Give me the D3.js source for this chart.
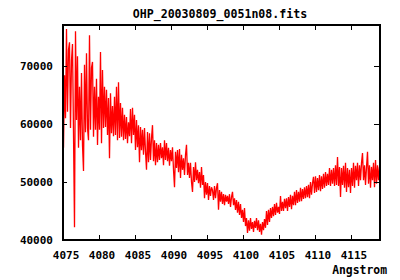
<!DOCTYPE html>
<html>
<head>
<meta charset="utf-8">
<script src="https://cdn.jsdelivr.net/npm/d3@7"></script>
<style>
  body { margin: 0; background: #fff; }
  text { font-family: "DejaVu Sans Mono", monospace; font-weight: bold; fill: #000; }
</style>
</head>
<body>
<div class="chart"></div>
<script>
// spectrum: start wavelength + step (as in the fits header), flux in units of 1000
var lambda0 = 4074.86;
var dLambda = 0.1389;
var fluxK = [
  65.0, 55.9, 68.4, 61.0, 76.4, 62.1, 72.8, 74.1, 59.3, 71.0,
  73.8, 58.4, 42.2, 76.0, 60.7, 71.7, 55.9, 66.4, 57.2, 68.8,
  56.4, 51.9, 70.2, 58.6, 72.2, 59.3, 57.2, 75.3, 59.0, 69.7,
  70.7, 57.8, 66.4, 59.0, 67.8, 56.4, 64.7, 59.0, 72.4, 56.7,
  69.3, 59.3, 66.4, 59.5, 65.9, 58.1, 64.5, 54.1, 65.3, 58.4,
  63.1, 57.9, 64.7, 58.1, 66.4, 57.2, 67.2, 57.6, 63.6, 57.8,
  62.8, 57.2, 61.6, 57.4, 61.2, 56.7, 60.3, 57.9, 62.6, 56.7,
  62.8, 58.1, 61.6, 55.5, 60.7, 56.0, 59.8, 53.4, 59.5, 55.5,
  59.0, 54.7, 59.3, 55.2, 52.1, 58.6, 53.4, 58.4, 53.8, 57.6,
  59.8, 53.6, 57.2, 52.9, 56.7, 53.4, 56.4, 53.8, 56.7, 54.1,
  56.0, 52.9, 57.2, 53.8, 56.7, 53.6, 55.9, 52.8, 55.5, 53.6,
  56.0, 52.1, 49.1, 55.2, 52.4, 55.5, 51.7, 55.7, 50.7, 54.7,
  52.1, 54.1, 51.2, 54.7, 56.4, 51.2, 53.3, 50.7, 53.3, 50.0,
  48.3, 52.6, 50.0, 53.4, 50.3, 52.1, 49.8, 51.7, 49.0, 52.6,
  49.5, 51.2, 47.2, 50.0, 47.8, 49.8, 46.9, 49.3, 47.6, 49.1,
  48.6, 46.9, 49.3, 47.2, 49.0, 49.8, 45.2, 48.6, 46.6, 48.3,
  46.2, 47.9, 46.0, 47.8, 46.6, 47.6, 46.2, 47.9, 45.7, 47.4,
  48.3, 46.0, 47.2, 45.2, 46.9, 44.7, 46.6, 44.3, 46.2, 43.8,
  45.2, 43.1, 45.5, 42.4, 43.8, 41.2, 43.4, 41.6, 43.8, 41.9,
  43.1, 41.4, 43.3, 42.1, 43.8, 41.7, 43.4, 41.4, 42.8, 40.9,
  43.1, 41.7, 43.6, 42.1, 45.0, 42.6, 45.2, 43.1, 45.5, 43.8,
  45.7, 44.1, 46.2, 44.3, 46.4, 44.7, 45.7, 44.5, 47.6, 45.0,
  46.6, 45.0, 47.1, 45.5, 47.2, 45.0, 47.4, 45.7, 47.8, 45.3,
  47.6, 46.0, 48.3, 46.0, 48.6, 46.4, 48.3, 46.6, 49.0, 46.7,
  48.8, 47.1, 49.1, 47.2, 49.3, 47.4, 49.5, 47.2, 50.0, 47.8,
  49.8, 50.9, 48.1, 51.0, 48.3, 50.7, 48.6, 51.2, 48.4, 51.0,
  48.8, 51.4, 49.0, 51.7, 49.3, 51.4, 49.5, 52.4, 49.3, 52.1,
  49.7, 52.4, 49.3, 52.9, 49.5, 54.3, 49.3, 52.6, 47.4, 52.4,
  49.5, 52.8, 49.0, 53.3, 48.3, 52.4, 49.1, 52.1, 48.1, 52.4,
  49.3, 53.3, 49.0, 52.8, 50.3, 53.3, 49.3, 52.9, 50.3, 53.3,
  55.0, 50.3, 52.9, 49.5, 52.6, 55.2, 49.7, 52.9, 49.0, 52.6,
  50.3, 53.3, 49.1, 53.8, 49.7, 52.9, 50.3, 52.6
];
var xTicks = [4075, 4080, 4085, 4090, 4095, 4100, 4105, 4110, 4115];
var yTicks = [40000, 50000, 60000, 70000];
var title = "OHP_20030809_0051n08.fits";
var xLabel = "Angstrom";

var spec = fluxK.map(function (f, i) {
  return { lambda: lambda0 + i * dLambda, flux: f * 1000 };
});

var W = 400, H = 280;
var pLeft = 62, pRight = 379, pTop = 25, pBottom = 240;

var x = d3.scaleLinear()
  .domain([4074.86, 4118.89])
  .range([pLeft, pRight]);

var y = d3.scaleLinear()
  .domain([40000, 77070])
  .range([pBottom, pTop]);

var svg = d3.select(".chart")
  .append("svg")
  .attr("width", W)
  .attr("height", H);

svg.append("clipPath")
  .attr("id", "plotclip")
  .append("rect")
  .attr("x", pLeft).attr("y", pTop)
  .attr("width", pRight - pLeft).attr("height", pBottom - pTop);

// spectrum line
svg.append("path")
  .datum(spec)
  .attr("clip-path", "url(#plotclip)")
  .attr("fill", "none")
  .attr("stroke", "#ff0000")
  .attr("stroke-width", 1.3)
  .attr("stroke-linejoin", "miter")
  .attr("d", d3.line()
    .x(function (d) { return x(d.lambda) + 0.5; })
    .y(function (d) { return y(d.flux); }));

// ticks, all four sides, pointing inward
var axB = svg.append("g")
  .attr("transform", "translate(0," + pBottom + ")")
  .call(d3.axisBottom(x).tickValues(xTicks).tickSize(-5).tickPadding(11).tickFormat(d3.format("d")));
var axT = svg.append("g")
  .attr("transform", "translate(0," + pTop + ")")
  .call(d3.axisTop(x).tickValues(xTicks).tickSize(-5).tickFormat(""));
var axL = svg.append("g")
  .attr("transform", "translate(" + pLeft + ",0)")
  .call(d3.axisLeft(y).tickValues(yTicks).tickSize(-5).tickPadding(9).tickFormat(d3.format("d")));
var axR = svg.append("g")
  .attr("transform", "translate(" + pRight + ",0)")
  .call(d3.axisRight(y).tickValues(yTicks).tickSize(-5).tickFormat(""));

[axB, axT, axL, axR].forEach(function (g) {
  g.attr("font-family", null).attr("font-size", null);
  g.select(".domain").remove();
  g.selectAll("line").attr("stroke", "#000").attr("shape-rendering", "crispEdges");
  g.selectAll("text").attr("font-size", 11).style("fill", "#000");
});
axB.selectAll("text").attr("dx", 2.5).attr("dy", "0.71em");

// frame
svg.append("rect")
  .attr("x", pLeft + 1).attr("y", pTop)
  .attr("width", pRight - pLeft).attr("height", pBottom - pTop)
  .attr("fill", "none")
  .attr("stroke", "#000")
  .attr("stroke-width", 2)
  .attr("shape-rendering", "crispEdges");

svg.append("text")
  .attr("x", 220)
  .attr("y", 18)
  .attr("text-anchor", "middle")
  .attr("font-size", 11.6)
  .text(title);

svg.append("text")
  .attr("x", 387)
  .attr("y", 274)
  .attr("text-anchor", "end")
  .attr("font-size", 11.4)
  .text(xLabel);
</script>
</body>
</html>
